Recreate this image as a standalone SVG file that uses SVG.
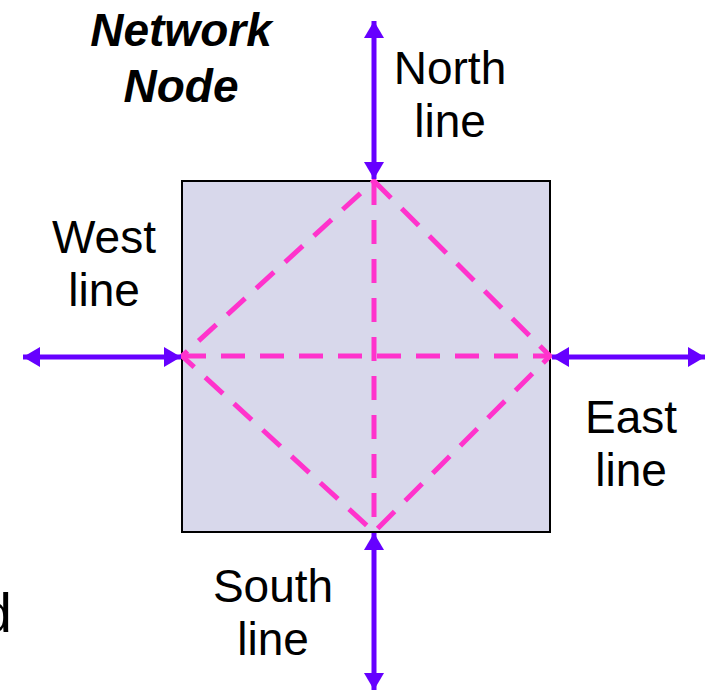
<svg xmlns="http://www.w3.org/2000/svg" width="706" height="692" viewBox="0 0 706 692">
  <style>
    .lbl { font-family: "Liberation Sans", Arial, sans-serif; font-size: 46px; fill: #000; text-anchor: middle; }
    .title { font-family: "Liberation Sans", Arial, sans-serif; font-size: 46px; font-weight: bold; font-style: italic; fill: #000; text-anchor: middle; }
    .box { fill: #D8D8EB; stroke: #000; stroke-width: 2; }
    .dash { fill: none; stroke: #FF33CC; stroke-width: 5; stroke-dasharray: 24 15; }
    .arrow { fill: none; stroke: #6600FF; stroke-width: 5; marker-start: url(#ah); marker-end: url(#ah); }
  </style>
  <defs>
    <marker id="ah" markerUnits="userSpaceOnUse" markerWidth="18" markerHeight="20" refX="17" refY="10" orient="auto-start-reverse" viewBox="0 0 18 20">
      <path d="M0,0 L17,10 L0,20 Z" fill="#6600FF"/>
    </marker>
  </defs>

  <g id="network-node">
    <rect class="box" x="182" y="181" width="368" height="351"/>
    <path class="dash" d="M374,181 L550,356 L374,532 L182,356 Z"/>
    <path class="dash" d="M374,181 L374,532"/>
    <path class="dash" d="M182,356 L550,356"/>
  </g>

  <g id="connectors">
    <line class="arrow" x1="374" y1="179" x2="374" y2="21"/>
    <line class="arrow" x1="181" y1="357" x2="23" y2="357"/>
    <line class="arrow" x1="552" y1="357" x2="705" y2="357"/>
    <line class="arrow" x1="374" y1="533" x2="374" y2="690"/>
  </g>

  <g id="title">
    <text class="title" x="181" y="46">Network</text>
    <text class="title" x="181" y="102">Node</text>
  </g>
  <g id="north-label">
    <text class="lbl" x="450" y="84">North</text>
    <text class="lbl" x="450" y="137">line</text>
  </g>
  <g id="west-label">
    <text class="lbl" x="104" y="253">West</text>
    <text class="lbl" x="104" y="306">line</text>
  </g>
  <g id="east-label">
    <text class="lbl" x="631" y="433">East</text>
    <text class="lbl" x="631" y="486">line</text>
  </g>
  <g id="south-label">
    <text class="lbl" x="273" y="602">South</text>
    <text class="lbl" x="273" y="655">line</text>
  </g>
  <g id="cut-text">
    <text x="12" y="632" style="font-family: 'Liberation Sans', Arial, sans-serif; font-size: 56px; text-anchor: end;">d</text>
  </g>
</svg>
